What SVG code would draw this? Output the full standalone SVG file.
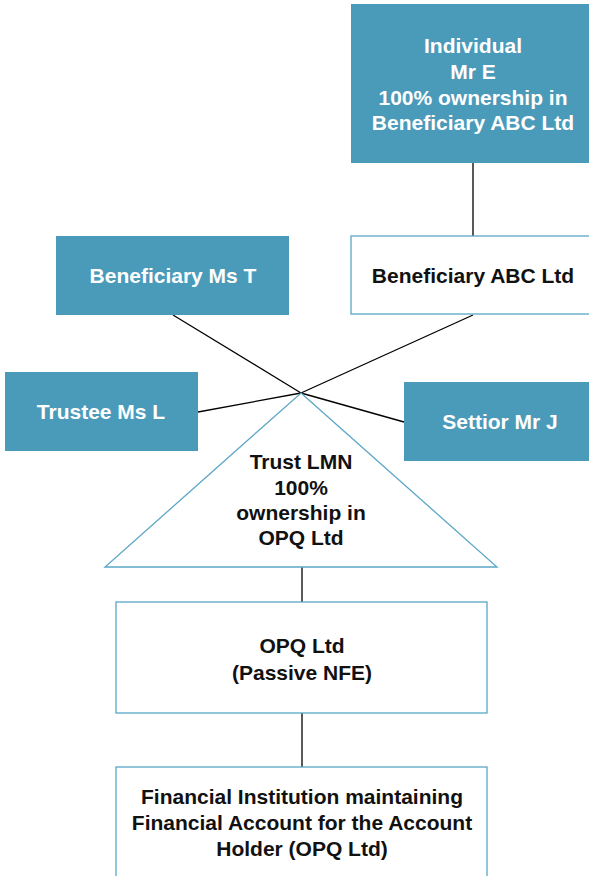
<svg xmlns="http://www.w3.org/2000/svg" width="589" height="876" viewBox="0 0 589 876">
<style>
.fill{fill:#4a9aba;}
.box{fill:#ffffff;stroke:#5aa6c6;stroke-width:1.3;}
.conn{stroke:#000;stroke-width:1.3;fill:none;}
text{font-family:"Liberation Sans",Arial,sans-serif;font-weight:bold;font-size:21px;text-anchor:middle;}
.w{fill:#ffffff;}
.k{fill:#111111;}
</style>
<rect width="589" height="876" fill="#ffffff"/>
<g id="connectors">
<line class="conn" x1="473" y1="163" x2="473" y2="236"/>
<line class="conn" x1="173" y1="315" x2="301" y2="393"/>
<line class="conn" x1="473" y1="315" x2="301" y2="393"/>
<line class="conn" x1="198" y1="412" x2="301" y2="393"/>
<line class="conn" x1="404" y1="422" x2="301" y2="393"/>
<line class="conn" x1="302" y1="567" x2="302" y2="602"/>
<line class="conn" x1="302" y1="713" x2="302" y2="767"/>
</g>
<g id="individual">
<rect class="fill" x="351" y="4" width="240" height="159"/>
<text class="w" x="473" y="53">Individual</text>
<text class="w" x="473" y="79">Mr E</text>
<text class="w" x="473" y="105">100% ownership in</text>
<text class="w" x="473" y="130">Beneficiary ABC Ltd</text>
</g>
<g id="abc">
<rect class="box" x="351" y="236" width="240" height="78"/>
<text class="k" x="473" y="283">Beneficiary ABC Ltd</text>
</g>
<g id="mst">
<rect class="fill" x="56" y="236" width="233" height="79"/>
<text class="w" x="173" y="283">Beneficiary Ms T</text>
</g>
<g id="msl">
<rect class="fill" x="5" y="372" width="193" height="79"/>
<text class="w" x="101" y="419">Trustee Ms L</text>
</g>
<g id="mrj">
<rect class="fill" x="404" y="382" width="187" height="79"/>
<text class="w" x="500" y="429">Settior Mr J</text>
</g>
<g id="trust">
<polygon points="301,393 497,567 105,567" fill="#ffffff" stroke="#5aa6c6" stroke-width="1.3"/>
<text class="k" x="301" y="469">Trust LMN</text>
<text class="k" x="301" y="495">100%</text>
<text class="k" x="301" y="520">ownership in</text>
<text class="k" x="301" y="545">OPQ Ltd</text>
</g>
<g id="opq">
<rect class="box" x="116" y="602" width="371" height="111"/>
<text class="k" x="302" y="653">OPQ Ltd</text>
<text class="k" x="302" y="680">(Passive NFE)</text>
</g>
<g id="fi">
<rect class="box" x="116" y="767" width="371" height="120"/>
<text class="k" x="302" y="804">Financial Institution maintaining</text>
<text class="k" x="302" y="830">Financial Account for the Account</text>
<text class="k" x="302" y="856">Holder (OPQ Ltd)</text>
</g>
</svg>
